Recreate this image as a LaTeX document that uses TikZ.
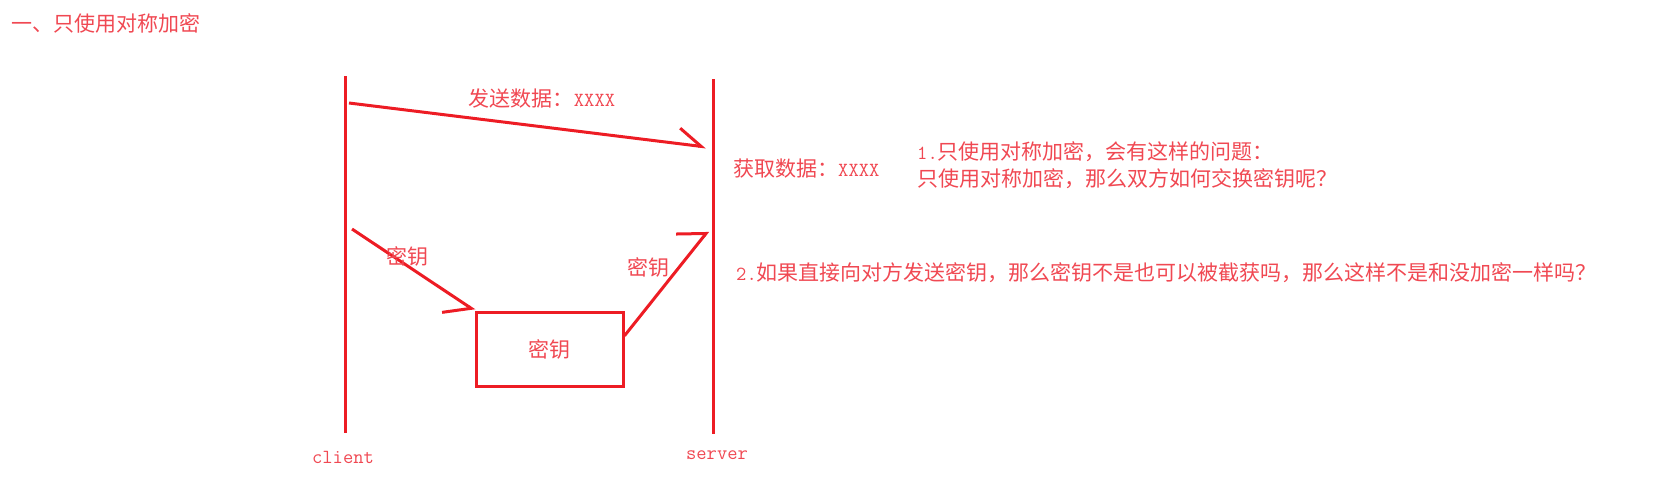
\documentclass[tikz,border=0pt]{standalone}
\usepackage{fontspec}
\setmainfont{Noto Sans CJK SC}
\usetikzlibrary{arrows.meta}
\definecolor{penred}{RGB}{237,28,36}
\definecolor{inkred}{RGB}{240,72,82}
\newcommand{\xlat}[1]{{\fontsize{20}{24}\selectfont\ttfamily #1}}

\begin{document}
\begin{tikzpicture}[x=1pt, y=-1pt,
    pen/.style={penred, line width=3pt},
    lbl/.style={inkred, inner sep=0pt, font=\fontsize{21}{25}\selectfont}]
    \useasboundingbox (0,0) rectangle (1653,479);

    % Title
    \node[lbl, anchor=west] (title) at (11,23) {一、只使用对称加密};

    % Lifelines
    \coordinate (cTop) at (345,76);
    \coordinate (cBot) at (345,433);
    \coordinate (sTop) at (713,79);
    \coordinate (sBot) at (713,434);
    \draw[pen] (cTop) -- (cBot);
    \draw[pen] (sTop) -- (sBot);
    \node[lbl] (client) at (343,457) {\xlat{client}};
    \node[lbl] (server) at (717,455) {\xlat{server}};

    % Data message
    \coordinate (sendData) at (349,103);
    \coordinate (recvData) at (706,147);
    \draw[pen, -{Straight Barb[harpoon, length=23pt, width=31pt]}] (sendData) -- (recvData);
    \node[lbl] (sendTxt) at (542,99) {发送数据：\xlat{XXXX}};
    \node[lbl, anchor=west] (recvTxt) at (733,169) {获取数据：\xlat{XXXX}};

    % Key exchange
    \node[lbl, draw=penred, line width=3pt, minimum width=147pt, minimum height=74pt] (keyBox) at (549.5,349) {密钥};
    \coordinate (keyOut) at (352,229);
    \coordinate (keyIn) at (708,231);
    \draw[pen, -{Straight Barb[harpoon, swap, length=22pt, width=39pt]}] (keyOut) -- (keyBox.north west);
    \draw[pen, -{Straight Barb[harpoon, length=19pt, width=46pt]}] (keyBox.10) -- (keyIn);
    \node[lbl] (keyLblA) at (407,256) {密钥};
    \node[lbl] (keyLblB) at (648,267) {密钥};

    % Questions
    \node[lbl, anchor=west] (qOneA) at (917,152) {\xlat{1.}只使用对称加密，会有这样的问题：};
    \node[lbl, anchor=west] (qOneB) at (917,179) {只使用对称加密，那么双方如何交换密钥呢？};
    \node[lbl, anchor=west] (qTwo) at (736,273) {\xlat{2.}如果直接向对方发送密钥，那么密钥不是也可以被截获吗，那么这样不是和没加密一样吗？};
\end{tikzpicture}
\end{document}
